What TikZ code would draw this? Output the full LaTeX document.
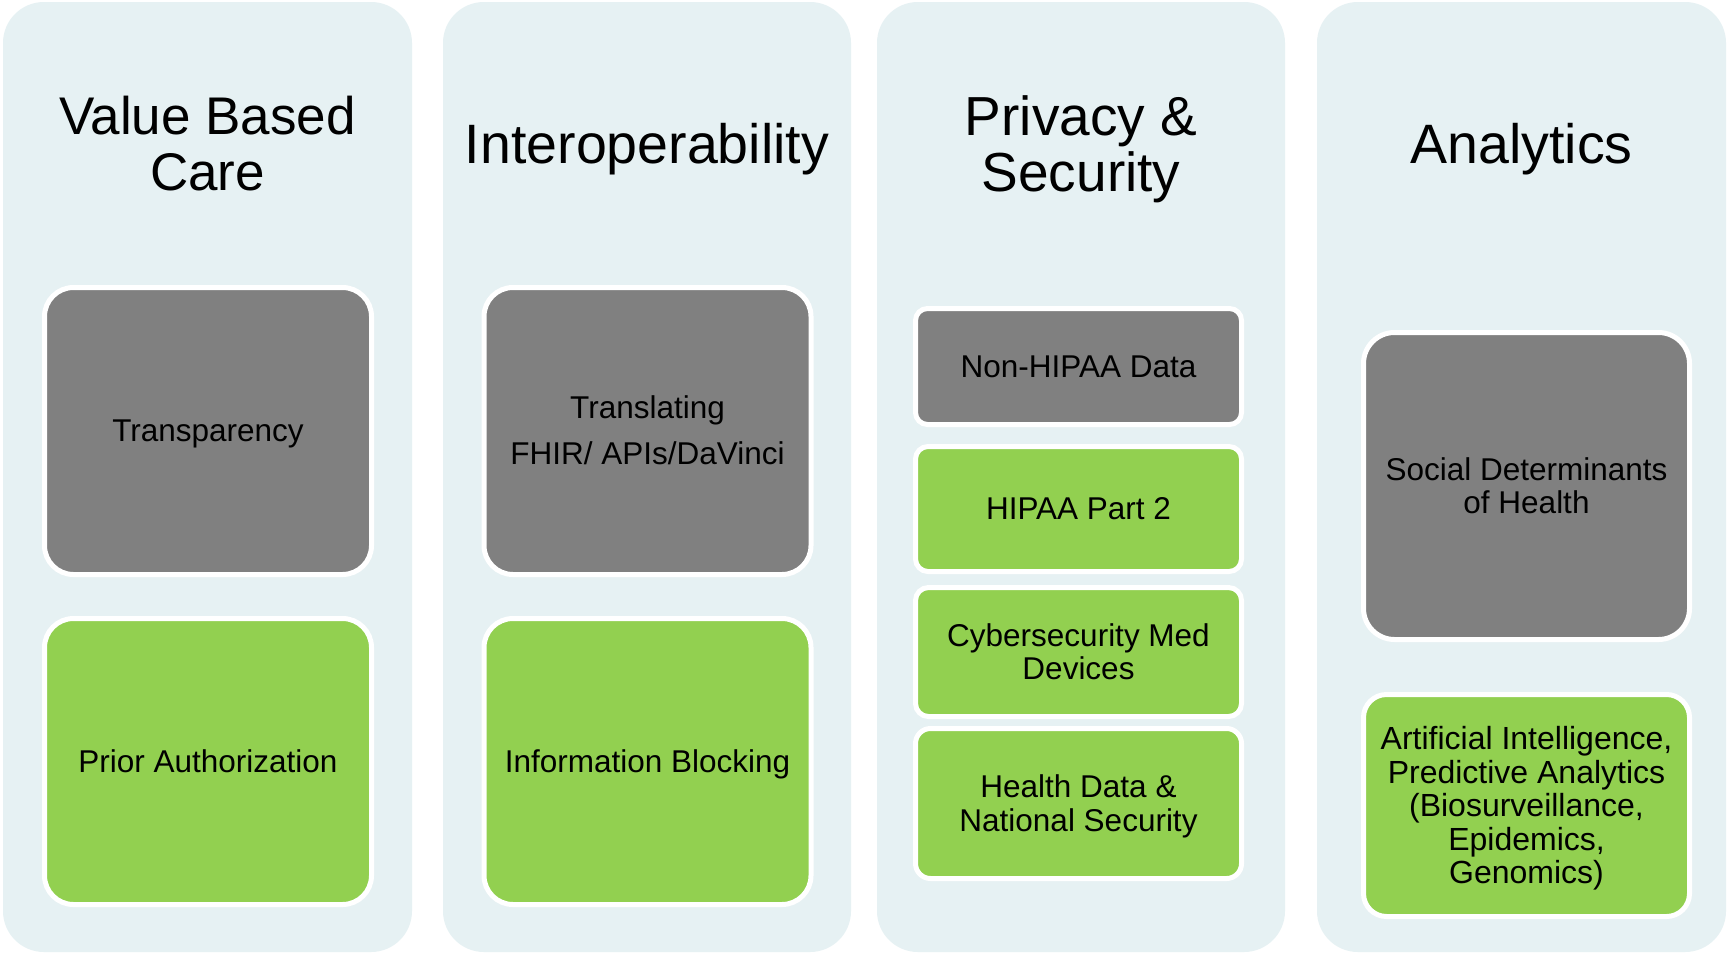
\documentclass[tikz,border=0pt]{standalone}
\usepackage{fontspec}
\setmainfont{Liberation Sans}
\definecolor{colbg}{RGB}{230,241,243}
\definecolor{boxgray}{RGB}{128,128,128}
\definecolor{boxgreen}{RGB}{146,208,80}
% line-box struts: ascent on the first line, descent on the last
\newcommand\lntop{\rule{0pt}{0.905em}}
\newcommand\lnbot{\rule[-0.212em]{0pt}{0.212em}}
% keep the baseline distance fixed whatever the line contents
\newcommand\fixedlines{\lineskiplimit=-100pt\relax}
\newcommand\cardfont[2]{\fontsize{#1}{#2}\selectfont\fixedlines}
\tikzset{
  column/.style={fill=colbg, draw=none, rounded corners=41pt},
  title/.style={align=center, text=black, inner sep=0pt,
    font={\cardfont{#1}{56}}},
  title/.default=54,
  card/.style={draw=white, line width=5pt, align=center, inner sep=0pt, text=black,
    font={\cardfont{31.5}{32}}},
  graycard/.style={card, fill=boxgray},
  greencard/.style={card, fill=boxgreen},
  pscard/.style={minimum width=326pt, font={\cardfont{31.5}{33.5}}},
}
\begin{document}
\begin{tikzpicture}[x=1pt, y=-1pt]
\useasboundingbox[fill=white] (0,0) rectangle (1728,953);

% four columns
\path[column] (3,2) rectangle (412,952);
\path[column] (443,2) rectangle (851,952);
\path[column] (877,2) rectangle (1285,952);
\path[column] (1317,2) rectangle (1726,952);

% column headings
\node[title=53] (t1) at (207.5,144) {\lntop Value Based\\Care\lnbot};
\node[title=55.5] (t2) at (647,144) {\lntop Interoperability\lnbot};
\node[title=55] (t3) at (1081,144) {\lntop Privacy \&\\Security\lnbot};
\node[title=55.5] (t4) at (1521.5,144) {\lntop Analytics\lnbot};

% Value Based Care
\node[graycard, minimum width=327pt, minimum height=287pt, rounded corners=29pt]
  (vb1) at (208,431) {\lntop Transparency\lnbot};
\node[greencard, minimum width=327pt, minimum height=286pt, rounded corners=29pt]
  (vb2) at (208,761.5) {\lntop Prior Authorization\lnbot};

% Interoperability
\node[graycard, minimum width=327pt, minimum height=287pt, rounded corners=29pt,
  font={\cardfont{31.5}{46}}]
  (io1) at (647.5,431) {\lntop Translating\\FHIR/ APIs/DaVinci\lnbot};
\node[greencard, minimum width=327pt, minimum height=286pt, rounded corners=29pt]
  (io2) at (647.5,761.5) {\lntop Information Blocking\lnbot};

% Privacy & Security
\node[graycard, pscard, minimum height=116pt, rounded corners=12pt]
  (ps1) at (1078.5,366.5) {\lntop Non-HIPAA Data\lnbot};
\node[greencard, pscard, minimum height=125pt, rounded corners=12.5pt]
  (ps2) at (1078.5,509) {\lntop HIPAA Part 2\lnbot};
\node[greencard, pscard, minimum height=129pt, rounded corners=13pt]
  (ps3) at (1078.5,652) {\lntop Cybersecurity Med\\Devices\lnbot};
\node[greencard, pscard, minimum height=150pt, rounded corners=15pt]
  (ps4) at (1078.5,803.5) {\lntop Health Data \&\\National Security\lnbot};

% Analytics
\node[graycard, minimum width=326pt, minimum height=307pt, rounded corners=31pt,
  font={\cardfont{31.5}{33}}]
  (an1) at (1526.5,486) {\lntop Social Determinants\\of Health\lnbot};
\node[greencard, minimum width=326pt, minimum height=222pt, rounded corners=23pt,
  font={\cardfont{32}{33.5}}]
  (an2) at (1526.5,805.5) {\lntop Artificial Intelligence,\\Predictive Analytics\\(Biosurveillance,\\Epidemics,\\Genomics)\lnbot};
\end{tikzpicture}
\end{document}
